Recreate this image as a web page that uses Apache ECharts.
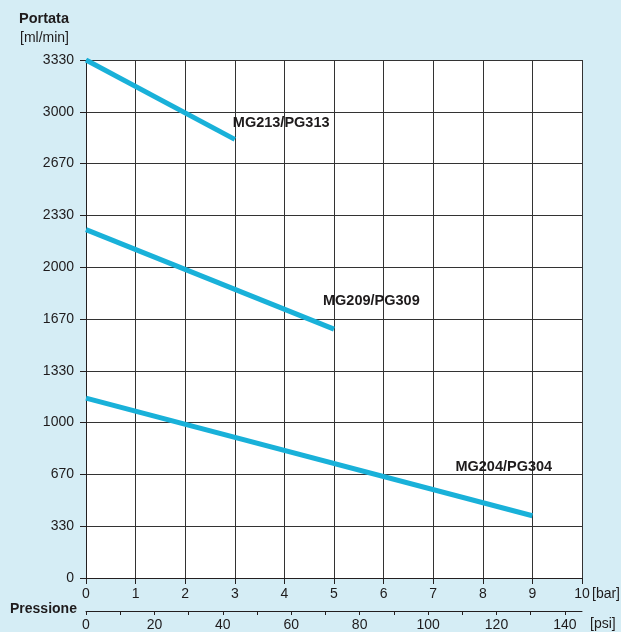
<!DOCTYPE html>
<html>
<head>
<meta charset="utf-8">
<script src="https://cdn.jsdelivr.net/npm/echarts@6/dist/echarts.min.js"></script>
<style>
html,body{margin:0;padding:0;background:#d5edf5;}
#c{width:621px;height:632px;}
</style>
</head>
<body>
<div id="c"></div>
<script>
// Data
var yTickLabels = ['0','330','670','1000','1330','1670','2000','2330','2670','3000','3330'];
var seriesNames = ['MG213/PG313','MG209/PG309','MG204/PG304'];
var mg213Bar = [0, 3];
var mg213Flow = [3330, 2820];
var mg209Bar = [0, 5];
var mg209Flow = [2240, 1600];
var mg204Bar = [0, 9];
var mg204Flow = [1156, 400];

var FONT = '"Liberation Sans", Arial, sans-serif';
var TXT = '#1e1b1c';
var LINE = '#19b1d9';

var labelOffsets = [[-7,-16],[-16,-28],[-82,-49]];

function build(xs, ys, idx) {
  return xs.map(function (x, i) {
    var item = { value: [x, ys[i]] };
    if (i === xs.length - 1) {
      item.label = {
        show: true, position: 'right', distance: 5, offset: labelOffsets[idx],
        formatter: seriesNames[idx], color: TXT, fontFamily: FONT,
        fontWeight: 'bold', fontSize: 14.5
      };
    }
    return item;
  });
}

var chart = echarts.init(document.getElementById('c'), null, {renderer: 'canvas'});
var lineSeries = [[mg213Bar, mg213Flow], [mg209Bar, mg209Flow], [mg204Bar, mg204Flow]].map(function (p, i) {
  return {
    type: 'line', name: seriesNames[i], xAxisIndex: 0, yAxisIndex: 0,
    data: build(p[0], p[1], i),
    symbol: 'circle', symbolSize: 0, showSymbol: true,
    lineStyle: { color: LINE, width: 5, cap: 'butt' },
    itemStyle: { color: LINE },
    label: { show: false },
    animation: false, silent: true, z: 5
  };
});

chart.setOption({
  backgroundColor: '#d5edf5',
  animation: false,
  grid: { left: 86, right: 39, top: 60, bottom: 53, show: true, backgroundColor: '#ffffff', borderWidth: 0 },
  xAxis: [{
    type: 'value', position: 'bottom', min: 0, max: 10, interval: 1,
    axisLine: { show: true, onZero: false, lineStyle: { color: '#231f20', width: 1 } },
    axisTick: { show: true, inside: false, length: 6, lineStyle: { color: '#231f20' } },
    axisLabel: { color: TXT, fontFamily: FONT, fontSize: 14, margin: 9 },
    splitLine: { show: true, lineStyle: { color: '#333333', width: 1 } }
  }, {
    type: 'value', position: 'bottom', offset: 33, min: 0, max: 145, interval: 10,
    axisLine: { show: true, onZero: false, lineStyle: { color: '#231f20', width: 1 } },
    axisTick: { show: true, inside: false, length: 4, lineStyle: { color: '#231f20' } },
    axisLabel: { color: TXT, fontFamily: FONT, fontSize: 14, margin: 7, showMaxLabel: false,
      formatter: function (v) { return (v % 20 === 0 && v <= 140) ? String(v) : ''; } },
    splitLine: { show: false }
  }],
  yAxis: [{
    type: 'value', min: 0, max: 3330, interval: 333,
    axisLine: { show: true, onZero: false, lineStyle: { color: '#231f20', width: 1 } },
    axisTick: { show: true, inside: false, length: 6, lineStyle: { color: '#231f20' } },
    axisLabel: { color: TXT, fontFamily: FONT, fontSize: 14, margin: 12,
      formatter: function (v) { return yTickLabels[Math.round(v / 333)]; } },
    splitLine: { show: true, lineStyle: { color: '#333333', width: 1 } }
  }],
  graphic: [
    { type: 'text', left: 19, top: 11, style: { text: 'Portata', font: 'bold 14.5px ' + FONT, fill: TXT } },
    { type: 'text', left: 20, top: 31, style: { text: '[ml/min]', font: '14px ' + FONT, fill: TXT } },
    { type: 'text', left: 10, top: 602, style: { text: 'Pressione', font: 'bold 14px ' + FONT, fill: TXT } },
    { type: 'text', left: 592, top: 587, style: { text: '[bar]', font: '14px ' + FONT, fill: TXT } },
    { type: 'text', left: 590, top: 617, style: { text: '[psi]', font: '14px ' + FONT, fill: TXT } }
  ],
  series: lineSeries
});
</script>
</body>
</html>
